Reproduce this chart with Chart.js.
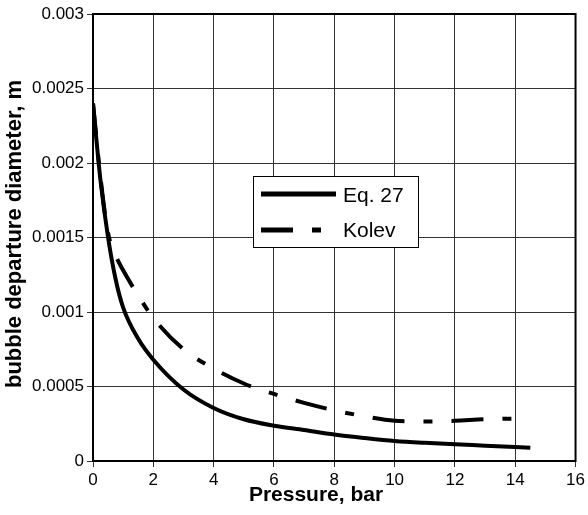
<!DOCTYPE html>
<html>
<head>
<meta charset="utf-8">
<script src="https://cdn.jsdelivr.net/npm/chart.js@4/dist/chart.umd.min.js"></script>
<style>
    body { margin: 0; background: #fff; }
    canvas { display: block; }
</style>
</head>
<body>
<canvas id="bubbleChart" width="588" height="515"></canvas>
<script>
// values
const pressure = [0, 0.25, 0.5, 0.75, 1, 1.5, 2, 3, 4, 5, 6, 7, 8, 9, 10, 11, 12, 13, 14.5];
const eq27 = [0.0024, 0.00188, 0.0015, 0.00122, 0.00103, 0.00082, 0.00068, 0.00048, 0.000356, 0.00028,
    0.000237, 0.000208, 0.000178, 0.000155, 0.000135, 0.000122, 0.000112, 0.000103, 0.000089];
const kolev = [0.0024, 0.0019, 0.00153, 0.00138, 0.00128, 0.00111, 0.00096, 0.00075, 0.00062, 0.00052,
    0.00045, 0.00039, 0.00034, 0.0003, 0.00027, 0.000265, 0.00027, 0.00028, 0.000286];
const seriesNames = ['Eq. 27', 'Kolev'];
const xTitle = 'Pressure, bar';
const yTitle = 'bubble departure diameter, m';

const kolevDash = [32, 19, 9, 19];

const toPoints = (ys) => pressure.map((p, i) => ({ x: p, y: ys[i] }));

// frame, axis titles and the boxed legend inside the plot
const framePlugin = {
    id: 'frame',
    afterDraw(chart) {
        const ctx = chart.ctx;
        const a = chart.chartArea;
        ctx.save();

        ctx.strokeStyle = '#000';
        ctx.lineWidth = 2;
        ctx.strokeRect(a.left, a.top, a.right - a.left, a.bottom - a.top);

        // axis titles
        ctx.fillStyle = '#000';
        ctx.textAlign = 'center';
        ctx.textBaseline = 'middle';
        ctx.font = 'bold 21px "Liberation Sans", Arial, sans-serif';
        ctx.fillText(xTitle, 316, 495);
        ctx.save();
        ctx.translate(15, 234);
        ctx.rotate(-Math.PI / 2);
        ctx.font = 'bold 22px "Liberation Sans", Arial, sans-serif';
        ctx.fillText(yTitle, 0, 0);
        ctx.restore();

        // legend
        const lx = 253.5, ly = 176.5, lw = 165, lh = 71;
        ctx.fillStyle = '#fff';
        ctx.fillRect(lx, ly, lw, lh);
        ctx.lineWidth = 1;
        ctx.strokeStyle = '#000';
        ctx.strokeRect(lx, ly, lw, lh);

        ctx.lineWidth = 5;
        ctx.lineCap = 'butt';
        ctx.beginPath();
        ctx.moveTo(261, 194);
        ctx.lineTo(336, 194);
        ctx.stroke();

        ctx.setLineDash(kolevDash);
        ctx.beginPath();
        ctx.moveTo(261, 230);
        ctx.lineTo(336, 230);
        ctx.stroke();
        ctx.setLineDash([]);

        ctx.fillStyle = '#000';
        ctx.font = '21px "Liberation Sans", Arial, sans-serif';
        ctx.textAlign = 'left';
        ctx.fillText(seriesNames[0], 343, 196);
        ctx.fillText(seriesNames[1], 343, 231);

        ctx.restore();
    }
};

new Chart(document.getElementById('bubbleChart').getContext('2d'), {
    type: 'scatter',
    data: {
        datasets: [
            {
                label: seriesNames[0],
                data: toPoints(eq27),
                showLine: true,
                borderColor: '#000',
                borderWidth: 4,
                pointRadius: 0,
                cubicInterpolationMode: 'monotone'
            },
            {
                label: seriesNames[1],
                data: toPoints(kolev),
                showLine: true,
                borderColor: '#000',
                borderWidth: 4,
                borderDash: kolevDash,
                pointRadius: 0,
                cubicInterpolationMode: 'monotone'
            }
        ]
    },
    options: {
        responsive: false,
        animation: false,
        layout: { padding: { top: 14, right: 11, left: 0, bottom: 0 } },
        plugins: {
            legend: { display: false },
            tooltip: { enabled: false }
        },
        scales: {
            x: {
                type: 'linear',
                min: 0,
                max: 16,
                afterFit: (scale) => { scale.height = 54; },
                ticks: {
                    stepSize: 2,
                    color: '#000',
                    padding: 3,
                    font: { family: '"Liberation Sans", Arial, sans-serif', size: 17 }
                },
                grid: { color: '#333', lineWidth: 1, tickLength: 6 },
                border: { color: '#000', width: 2 }
            },
            y: {
                min: 0,
                max: 0.003,
                afterFit: (scale) => { scale.width = 93; },
                ticks: {
                    stepSize: 0.0005,
                    color: '#000',
                    padding: 3,
                    font: { family: '"Liberation Sans", Arial, sans-serif', size: 17 },
                    callback: (value) => String(Number(value.toFixed(4)))
                },
                grid: { color: '#333', lineWidth: 1, tickLength: 6 },
                border: { color: '#000', width: 2 }
            }
        }
    },
    plugins: [framePlugin]
});
</script>
</body>
</html>
